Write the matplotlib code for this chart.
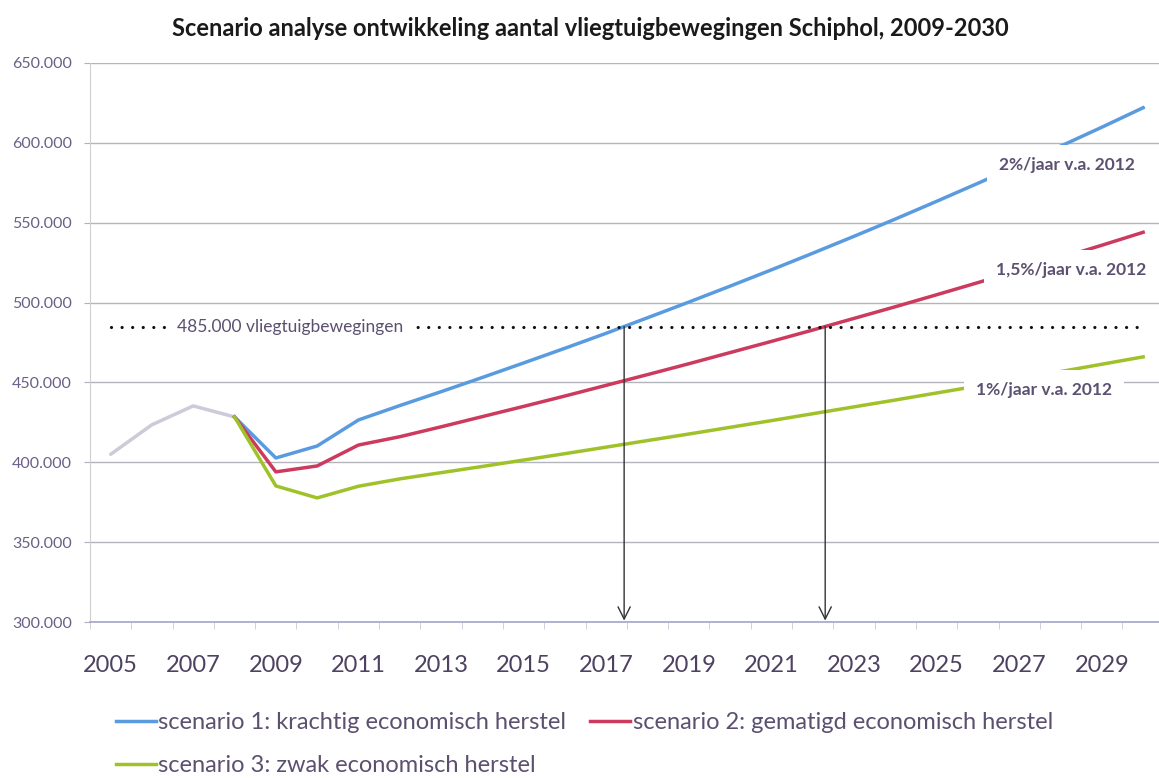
import numpy as np
import matplotlib
matplotlib.use("Agg")
import matplotlib.pyplot as plt

plt.rcParams["font.family"] = ["Lato", "DejaVu Sans"]

# -----------------------------
# Data
# -----------------------------
hist_years = [2005, 2006, 2007, 2008]
hist_values = [405000, 423500, 435300, 428400]

scen_years = list(range(2008, 2031))
scen1 = [428400, 402700, 410200, 426500, 435500, 444200, 453100, 462200, 471400,
         480800, 490500, 500300, 510300, 520500, 530900, 541500, 552300, 563400,
         574700, 586200, 597900, 609800, 622000]
scen2 = [428400, 394000, 397700, 410800, 416000, 422200, 428600, 435000, 441500,
         448200, 454900, 461700, 468700, 475700, 482800, 490100, 497400, 504900,
         512500, 520200, 528000, 535900, 544000]
scen3 = [428400, 385200, 377700, 385000, 389600, 393500, 397400, 401400, 405400,
         409500, 413600, 417700, 421900, 426100, 430400, 434700, 439000, 443400,
         447800, 452300, 456800, 461400, 466000]

target = 485000
target_years = list(range(2005, 2031))

labels = ["scenario 1: krachtig economisch herstel",
          "scenario 2: gematigd economisch herstel",
          "scenario 3: zwak economisch herstel"]
colors = ["#5a9be0", "#cc3a5e", "#9fc22a"]

yticks = [300000, 350000, 400000, 450000, 500000, 550000, 600000, 650000]
ytick_labels = ["300.000", "350.000", "400.000", "450.000", "500.000",
                "550.000", "600.000", "650.000"]
xtick_years = list(range(2005, 2030, 2))

txt_col = "#5c5070"

# -----------------------------
# Figure
# -----------------------------
fig = plt.figure(figsize=(11.59, 7.78), dpi=100)
ax = fig.add_axes([90 / 1159, 156 / 778, 26 * 41.3 / 1159, 559 / 778])

ax.plot(hist_years, hist_values, color="#cbcbd9", lw=2.5, zorder=3,
        solid_capstyle="round")
l1, = ax.plot(scen_years, scen1, color=colors[0], lw=2.5, zorder=3)
l2, = ax.plot(scen_years, scen2, color=colors[1], lw=2.5, zorder=3)
l3, = ax.plot(scen_years, scen3, color=colors[2], lw=2.5, zorder=3)

# target line
ax.plot(target_years, [target] * len(target_years), color="#111111", lw=2.3,
        linestyle=(0, (0.01, 3.3)), dash_capstyle="round", zorder=4)

# arrows where scenario 1 and 2 reach the target
for s in [scen1, scen2]:
    xc = np.interp(target, s[3:], scen_years[3:])
    ax.annotate("", xy=(xc, 300000), xytext=(xc, target),
                arrowprops=dict(arrowstyle="->", color="#333333", lw=1.0,
                                mutation_scale=22, shrinkA=0, shrinkB=1),
                zorder=5)

# annotations
box = dict(boxstyle="square,pad=0.7", fc="white", ec="none")
ax.text(2006.6, target, "485.000 vliegtuigbewegingen", fontsize=12.5,
        color=txt_col, va="center", ha="left", zorder=6,
        bbox=dict(boxstyle="square,pad=0.6", fc="white", ec="none"))
ax.text(2028.15, 586000, "2%/jaar v.a. 2012", fontsize=12.5, fontweight="bold",
        color=txt_col, ha="center", va="center", zorder=6, bbox=box)
ax.text(2028.25, 520400, "1,5%/jaar v.a. 2012", fontsize=12.5, fontweight="bold",
        color=txt_col, ha="center", va="center", zorder=6, bbox=box)
ax.text(2027.6, 445300, "1%/jaar v.a. 2012", fontsize=12.5, fontweight="bold",
        color=txt_col, ha="center", va="center", zorder=6, bbox=box)

# axes styling
ax.set_xlim(2004.5, 2030.5)
ax.set_ylim(300000, 650000)
ax.set_yticks(yticks)
ax.set_yticklabels(ytick_labels, color="#6b5f88", fontsize=11.5)
ax.set_xticks(xtick_years)
ax.set_xticklabels([str(y) for y in xtick_years], color="#4d4260", fontsize=17)
ax.set_xticks(np.arange(2004.5, 2031, 1), minor=True)
ax.tick_params(axis="x", which="major", length=0, pad=24)
ax.tick_params(axis="x", which="minor", length=5, color="#c8c8d8")
ax.tick_params(axis="y", length=4, color="#b0b0c0", pad=9)
ax.grid(axis="y", color="#b4b4bc", lw=1.0)
ax.set_axisbelow(True)
for side in ["top", "right"]:
    ax.spines[side].set_visible(False)
ax.spines["left"].set_color("#cfcfcf")
ax.spines["bottom"].set_color("#a4a4cc")
ax.spines["bottom"].set_linewidth(1.2)

fig.text(590 / 1159, 1 - 28 / 778,
         "Scenario analyse ontwikkeling aantal vliegtuigbewegingen Schiphol, 2009-2030",
         ha="center", va="center", fontsize=17, fontweight="bold", color="#1a1a1a")

leg = fig.legend([l1, l3, l2], [labels[0], labels[2], labels[1]], ncol=2,
                 loc="upper left", bbox_to_anchor=(116 / 1159, 1 - 712 / 778),
                 frameon=False, fontsize=17, handlelength=1.7, handletextpad=0.1,
                 columnspacing=1.0, labelspacing=0.95, borderpad=0,
                 borderaxespad=0)
for t in leg.get_texts():
    t.set_color(txt_col)

plt.savefig("out.png", dpi=100)
